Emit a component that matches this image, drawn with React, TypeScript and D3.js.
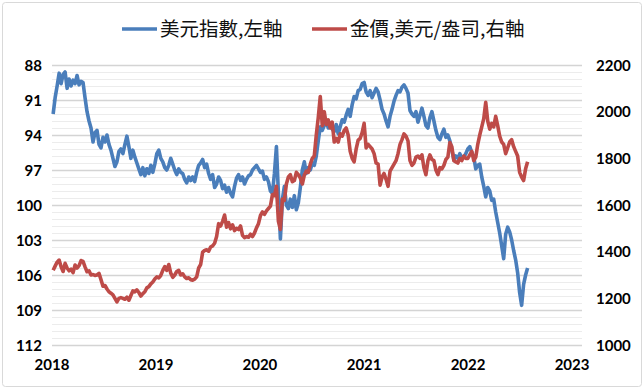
import React, { useEffect, useRef } from 'react';
import * as d3 from 'd3';

// weekly closes, first week = 2018-01-05
const dxy2018 = [92.2, 90.8, 89.8, 88.7, 89.6, 88.8, 88.6, 90.0, 89.2, 89.8, 89.3, 89.6, 88.9, 89.7, 89.4, 89.5, 90.8, 92.0, 92.8, 93.4, 94.6, 93.8, 93.6, 94.8, 95.1, 94.2, 94.6, 94.0, 94.8, 95.3, 96.0, 96.7, 96.3, 95.4, 95.2, 95.6, 94.8, 94.1, 95.0, 96.0, 95.3, 95.9, 96.4, 96.9, 97.4, 96.8, 97.5, 96.9, 97.3, 96.6, 97.2, 96.5];
const dxy2019 = [95.6, 95.3, 96.0, 96.3, 96.8, 97.0, 96.6, 96.0, 96.5, 97.0, 97.4, 96.9, 97.2, 97.3, 97.8, 98.1, 97.6, 97.9, 97.6, 98.0, 97.2, 96.6, 96.4, 96.1, 96.8, 96.5, 97.3, 97.8, 97.4, 98.5, 98.2, 97.6, 97.9, 98.6, 98.3, 98.9, 98.5, 99.0, 99.3, 98.4, 97.7, 97.4, 97.9, 97.6, 98.2, 97.8, 97.5, 97.4, 97.0, 96.8, 96.6, 96.9];
const dxy2020 = [97.2, 97.1, 97.8, 97.6, 98.0, 98.8, 99.0, 97.3, 95.0, 99.0, 102.9, 99.5, 98.4, 100.0, 100.3, 99.5, 100.2, 99.2, 100.4, 99.8, 98.5, 97.0, 96.3, 97.3, 96.8, 97.0, 96.4, 96.6, 95.8, 94.5, 93.3, 93.6, 93.2, 92.8, 93.4, 93.0, 93.5, 93.7, 93.1, 93.9, 93.3, 92.7, 92.9, 92.3, 91.8, 92.4, 91.4, 90.7, 90.9, 90.2, 90.1, 89.6];
const dxy2021 = [89.5, 90.3, 90.6, 90.2, 90.8, 90.4, 90.0, 90.3, 91.0, 91.8, 92.2, 92.8, 93.3, 92.4, 91.8, 91.1, 90.6, 90.2, 90.3, 89.9, 89.7, 90.0, 90.4, 91.9, 92.2, 92.4, 92.0, 92.9, 92.3, 91.7, 92.4, 93.2, 93.4, 92.5, 92.0, 92.8, 93.6, 94.2, 94.4, 93.9, 93.5, 94.2, 94.0, 94.5, 95.3, 96.1, 95.8, 96.0, 95.6, 96.0, 95.9, 95.6];
const dxy2022 = [95.2, 95.0, 95.5, 95.9, 96.9, 96.6, 96.5, 97.6, 98.4, 99.3, 98.5, 98.8, 99.6, 99.5, 100.6, 101.5, 102.4, 103.5, 104.6, 102.5, 101.9, 102.3, 103.0, 103.9, 104.7, 105.8, 107.5, 108.6, 106.8, 106.0, 105.4];

const gold2018 = [1320, 1338, 1355, 1364, 1335, 1315, 1350, 1330, 1318, 1325, 1310, 1343, 1330, 1340, 1362, 1358, 1335, 1314, 1318, 1300, 1302, 1298, 1300, 1307, 1280, 1252, 1255, 1240, 1228, 1222, 1215, 1200, 1185, 1200, 1203, 1200, 1196, 1205, 1192, 1212, 1232, 1228, 1236, 1225, 1210, 1220, 1228, 1245, 1250, 1262, 1270, 1283];
const gold2019 = [1292, 1288, 1298, 1320, 1336, 1320, 1345, 1308, 1290, 1300, 1315, 1320, 1300, 1305, 1292, 1285, 1288, 1280, 1278, 1282, 1292, 1330, 1345, 1398, 1405, 1408, 1402, 1420, 1425, 1436, 1465, 1520, 1510, 1530, 1557, 1505, 1525, 1498, 1515, 1490, 1500, 1495, 1510, 1470, 1460, 1465, 1462, 1475, 1465, 1480, 1502, 1520];
const gold2020 = [1555, 1570, 1560, 1575, 1585, 1595, 1645, 1640, 1680, 1530, 1495, 1625, 1620, 1690, 1720, 1730, 1700, 1705, 1740, 1730, 1715, 1690, 1728, 1745, 1740, 1775, 1800, 1810, 1900, 1975, 2065, 1940, 2000, 1945, 1965, 1930, 1955, 1870, 1885, 1870, 1905, 1895, 1920, 1930, 1900, 1830, 1800, 1785, 1840, 1878, 1885, 1910];
const gold2021 = [1950, 1845, 1860, 1850, 1840, 1820, 1780, 1775, 1685, 1720, 1735, 1710, 1680, 1745, 1760, 1775, 1790, 1820, 1860, 1880, 1905, 1895, 1875, 1790, 1770, 1780, 1805, 1810, 1800, 1815, 1760, 1730, 1790, 1815, 1795, 1790, 1750, 1730, 1760, 1755, 1770, 1795, 1805, 1868, 1850, 1790, 1785, 1780, 1800, 1790, 1810, 1800];
const gold2022 = [1800, 1815, 1830, 1790, 1805, 1860, 1900, 1935, 1970, 2040, 1960, 1925, 1950, 1935, 1980, 1940, 1895, 1870, 1860, 1820, 1845, 1870, 1880, 1850, 1830, 1810, 1740, 1720, 1705, 1755, 1785];

const yearTicks = [2018, 2019, 2020, 2021, 2022, 2023];
const leftTicks = [88, 91, 94, 97, 100, 103, 106, 109, 112];
const rightTicks = [1000, 1200, 1400, 1600, 1800, 2000, 2200];
const legendLabels = ['美元指數,左軸', '金價,美元/盎司,右軸'];

const dxy = [...dxy2018, ...dxy2019, ...dxy2020, ...dxy2021, ...dxy2022];
const gold = [...gold2018, ...gold2019, ...gold2020, ...gold2021, ...gold2022];

const W = 644;
const H = 389;
const BLUE = '#4a7ebb';
const RED = '#be4b48';
const TICK_FONT = 'Lato, "Liberation Sans", sans-serif';
const CJK_FONT = '"Noto Sans CJK TC", "Noto Sans CJK SC", sans-serif';

const weekDate = (i: number) => new Date(2018, 0, 5 + 7 * i);

const App = () => {
  const svgRef = useRef<SVGSVGElement>(null);

  useEffect(() => {
    document.body.style.margin = '0';
    const svg = d3.select(svgRef.current);
    svg.selectAll('*').remove();

    const left = 52, right = 582, top = 65, bottom = 345;

    const x = d3.scaleTime()
      .domain([new Date(2018, 0, 1), new Date(2023, 1, 5)])
      .range([left, right]);
    // dollar index axis is inverted
    const yL = d3.scaleLinear().domain([88, 112]).range([top, bottom]);
    const yR = d3.scaleLinear().domain([1000, 2200]).range([bottom, top]);

    // outer frame
    svg.append('rect')
      .attr('x', 2.5).attr('y', 2.5)
      .attr('width', W - 5).attr('height', H - 5)
      .attr('rx', 3)
      .attr('fill', '#fff')
      .attr('stroke', '#d9d9d9');

    // minor gridlines every 0.6 of the left axis
    const minor = d3.range(88, 112.001, 0.6);
    svg.append('g').selectAll('line')
      .data(minor)
      .join('line')
      .attr('x1', left).attr('x2', right)
      .attr('y1', d => Math.round(yL(d)) + 0.5)
      .attr('y2', d => Math.round(yL(d)) + 0.5)
      .attr('stroke', '#ececec')
      .attr('stroke-width', 1);

    svg.append('g').selectAll('line')
      .data(leftTicks)
      .join('line')
      .attr('x1', left).attr('x2', right)
      .attr('y1', d => Math.round(yL(d)) + 0.5)
      .attr('y2', d => Math.round(yL(d)) + 0.5)
      .attr('stroke', '#d4d4d4')
      .attr('stroke-width', 1.4);

    // axis labels
    svg.append('g').selectAll('text')
      .data(leftTicks)
      .join('text')
      .attr('x', 42)
      .attr('y', d => yL(d) + 5.5)
      .attr('text-anchor', 'end')
      .attr('font-family', TICK_FONT)
      .attr('font-weight', 'bold')
      .attr('font-size', 15)
      .attr('fill', '#000')
      .text(d => d);

    svg.append('g').selectAll('text')
      .data(rightTicks)
      .join('text')
      .attr('x', 596)
      .attr('y', d => yR(d) + 5.5)
      .attr('font-family', TICK_FONT)
      .attr('font-weight', 'bold')
      .attr('font-size', 15)
      .attr('fill', '#000')
      .text(d => d);

    svg.append('g').selectAll('text')
      .data(yearTicks)
      .join('text')
      .attr('x', d => x(new Date(d, 0, 1)))
      .attr('y', 370)
      .attr('text-anchor', 'middle')
      .attr('font-family', TICK_FONT)
      .attr('font-weight', 'bold')
      .attr('font-size', 15)
      .attr('fill', '#000')
      .text(d => d);

    // series
    const lineL = d3.line<number>()
      .x((_, i) => x(weekDate(i)))
      .y(d => yL(d));
    const lineR = d3.line<number>()
      .x((_, i) => x(weekDate(i)))
      .y(d => yR(d));

    svg.append('path')
      .datum(dxy)
      .attr('d', lineL)
      .attr('fill', 'none')
      .attr('stroke', BLUE)
      .attr('stroke-width', 3.6)
      .attr('stroke-linejoin', 'round');

    svg.append('path')
      .datum(gold)
      .attr('d', lineR)
      .attr('fill', 'none')
      .attr('stroke', RED)
      .attr('stroke-width', 3.6)
      .attr('stroke-linejoin', 'round');

    // legend
    const legend = [
      { label: legendLabels[0], color: BLUE, x: 122 },
      { label: legendLabels[1], color: RED, x: 312 },
    ];
    const lg = svg.append('g').selectAll('g')
      .data(legend)
      .join('g')
      .attr('transform', d => `translate(${d.x},29)`);
    lg.append('line')
      .attr('x1', 0).attr('x2', 35)
      .attr('stroke', d => d.color)
      .attr('stroke-width', 3.5);
    lg.append('text')
      .attr('x', 38)
      .attr('y', 7)
      .attr('font-family', CJK_FONT)
      .attr('font-size', 19.5)
      .attr('fill', '#111')
      .text(d => d.label);
  }, []);

  return (
    <svg ref={svgRef} width={W} height={H} style={{ display: 'block' }} />
  );
};

export default App;
